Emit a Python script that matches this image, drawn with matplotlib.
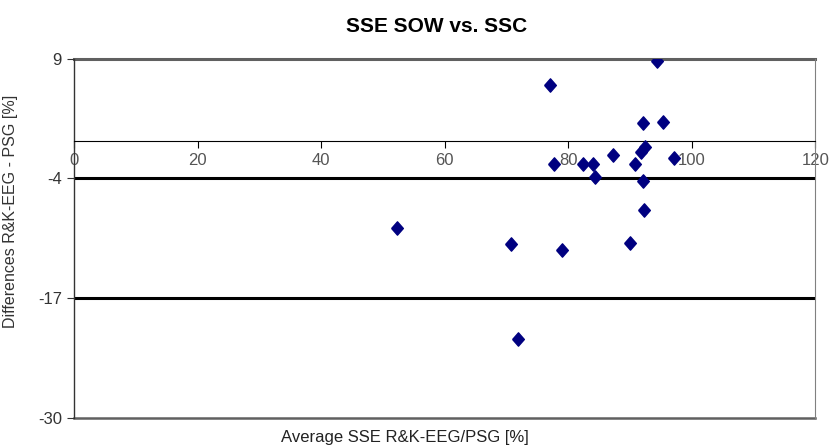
import matplotlib
matplotlib.use("Agg")
import matplotlib.pyplot as plt
from matplotlib import font_manager

names = {f.name for f in font_manager.fontManager.ttflist}
narrow = 'Liberation Sans Narrow' if 'Liberation Sans Narrow' in names else 'Liberation Sans'
plt.rcParams['font.family'] = [narrow, 'DejaVu Sans']

title = "SSE SOW vs. SSC"
xlabel = "Average SSE R&K-EEG/PSG [%]"
ylabel = "Differences R&K-EEG - PSG [%]"

avg = [77.0, 94.4, 92.1, 95.3, 77.6, 82.3, 84.0, 84.3, 87.2, 90.8,
       91.8, 92.4, 92.1, 97.1, 52.3, 70.7, 79.0, 90.0, 92.3, 71.8]
diff = [6.1, 8.7, 2.0, 2.1, -2.4, -2.4, -2.4, -3.9, -1.5, -2.4,
        -1.1, -0.6, -4.3, -1.8, -9.4, -11.1, -11.8, -11.0, -7.4, -21.4]

limits = [-4, -17]
xticks = [0, 20, 40, 60, 80, 100, 120]
yticks = [9, -4, -17, -30]

fig = plt.figure(figsize=(8.32, 4.48), dpi=100)
ax = fig.add_axes([74.3/832, 1-418/448, (815.4-74.3)/832, (418-58.5)/448])
ax.set_xlim(0, 120)
ax.set_ylim(-30, 9)

for v in limits:
    ax.axhline(v, color='black', lw=2.2, zorder=2)

diamond = [(-0.44, 0), (0, 0.5), (0.44, 0), (0, -0.5), (-0.44, 0)]
ax.plot(avg, diff, linestyle='none', marker=diamond, markersize=9.6,
        color='#000080', zorder=3)

# spines
ax.spines['bottom'].set_position(('data', 0))
ax.spines['bottom'].set_color('black')
ax.spines['bottom'].set_linewidth(0.8)
ax.spines['left'].set_color('#333333')
ax.spines['left'].set_linewidth(1.0)
ax.spines['right'].set_color('#808080')
ax.spines['right'].set_linewidth(0.8)
ax.spines['top'].set_visible(False)
ax.axhline(9, color='#606060', lw=2.2, zorder=1, clip_on=False)
ax.axhline(-30, color='#606060', lw=1.8, zorder=1, clip_on=False)

ax.set_xticks(xticks)
ax.set_xticklabels([str(t) for t in xticks])
ax.set_yticks(yticks)
ax.set_yticklabels([str(t) for t in yticks])
ax.tick_params(axis='x', direction='out', length=5, width=0.8, color='black',
               labelsize=12, labelcolor='#555555', pad=3)
ax.tick_params(axis='y', direction='out', length=5, width=0.8, color='#333333',
               labelsize=12, labelcolor='#333333', pad=4)

ax.set_ylabel(ylabel, fontsize=11.5, color='#333333', family=['Liberation Sans', 'DejaVu Sans'])
ax.yaxis.set_label_coords(-0.076, 0.576)
ax.set_xlabel(xlabel, fontsize=12, color='#222222', va='center')
ax.xaxis.set_label_coords(0.446, -0.053)

fig.text(437/832, 1-27/448, title, ha='center', va='center',
         fontsize=15, fontweight='bold')

fig.savefig('out.png', dpi=100, facecolor='white')
